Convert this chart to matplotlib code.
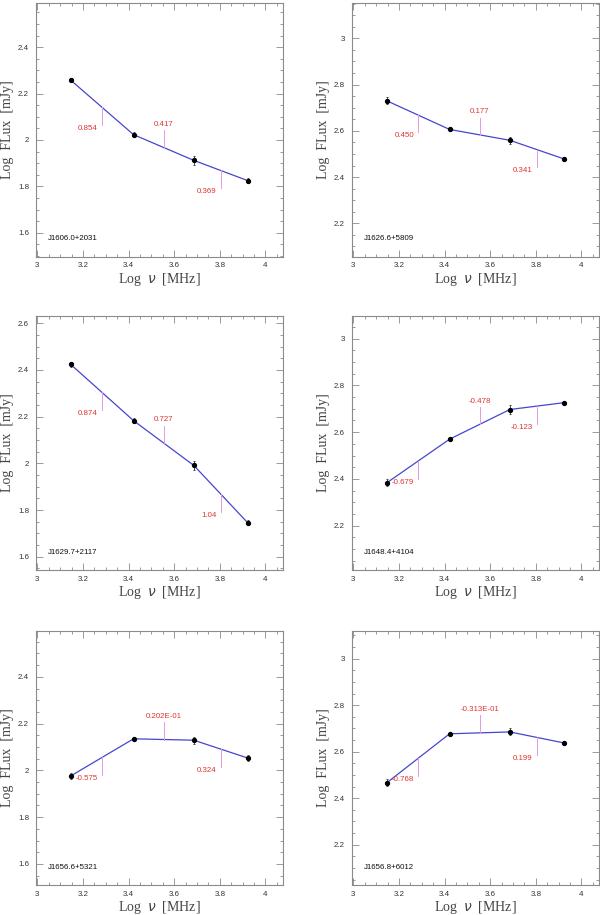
import matplotlib
matplotlib.use("Agg")
import matplotlib.pyplot as plt
from matplotlib.ticker import MultipleLocator

# frequencies (log MHz): 1.4, 2.64, 4.85, 8.35 GHz
log_nu = [3.146, 3.4216, 3.686, 3.9217]

names = ["J1606.0+2031", "J1626.6+5809", "J1629.7+2117",
         "J1648.4+4104", "J1656.6+5321", "J1656.8+6012"]

flux_1606 = [2.258, 2.023, 1.912, 1.825]
flux_1626 = [2.730, 2.606, 2.559, 2.479]
flux_1629 = [2.424, 2.183, 1.991, 1.746]
flux_1648 = [2.383, 2.570, 2.697, 2.726]
flux_1656a = [1.976, 2.135, 2.129, 2.053]
flux_1656b = [2.466, 2.677, 2.685, 2.638]

err_1606 = [0.010, 0.010, 0.020, 0.010]
err_1626 = [0.015, 0.005, 0.015, 0.005]
err_1629 = [0.012, 0.010, 0.020, 0.010]
err_1648 = [0.015, 0.005, 0.020, 0.005]
err_1656a = [0.012, 0.008, 0.015, 0.012]
err_1656b = [0.015, 0.005, 0.015, 0.008]

alpha_1606 = ["0.854", "0.417", "0.369"]
alpha_1626 = ["0.450", "0.177", "0.341"]
alpha_1629 = ["0.874", "0.727", "1.04"]
alpha_1648 = ["-0.679", "-0.478", "-0.123"]
alpha_1656a = ["-0.575", "0.202E-01", "0.324"]
alpha_1656b = ["-0.768", "-0.313E-01", "0.199"]

ylims = [(1.497, 2.592), (2.056, 3.154), (1.543, 2.631),
         (2.010, 3.097), (1.510, 2.596), (2.027, 3.119)]

fluxes = [flux_1606, flux_1626, flux_1629, flux_1648, flux_1656a, flux_1656b]
errs = [err_1606, err_1626, err_1629, err_1648, err_1656a, err_1656b]
alphas = [alpha_1606, alpha_1626, alpha_1629, alpha_1648, alpha_1656a, alpha_1656b]

FRAME = "#8a8a8a"
TICKLEN = 0.075
SMALL = dict(family="Liberation Sans", fontsize=5.7)

fig = plt.figure(figsize=(6, 9.15), dpi=100)

lefts = [0.060, 0.5867]
bottoms = [0.7195, 0.377, 0.0328]
w, h = 0.4117, 0.2776

for i in range(6):
    ax = fig.add_axes([lefts[i % 2], bottoms[i // 2], w, h])
    y = fluxes[i]

    ax.plot(log_nu, y, color="#4646cc", lw=0.9, zorder=2)
    ax.errorbar(log_nu, y, yerr=errs[i], fmt="none", ecolor="#333333",
                elinewidth=0.6, capsize=1.0, capthick=0.6, zorder=3)
    ax.plot(log_nu, y, "o", color="black", ms=2.8, zorder=4)

    # spectral index marks at segment midpoints
    for k in range(3):
        xm = 0.5 * (log_nu[k] + log_nu[k + 1])
        ym = 0.5 * (y[k] + y[k + 1])
        if k == 1:
            ax.plot([xm, xm], [ym, ym + TICKLEN], color="#e49ae4", lw=0.7)
            ax.annotate(alphas[i][k], (xm, ym + TICKLEN), xytext=(0, 1.5),
                        textcoords="offset points", ha="center", va="bottom",
                        color="#e03535", **SMALL)
        else:
            ax.plot([xm, xm], [ym, ym - TICKLEN], color="#e49ae4", lw=0.7)
            ax.annotate(alphas[i][k], (xm, ym - TICKLEN), xytext=(-3, 0),
                        textcoords="offset points", ha="right", va="top",
                        color="#e03535", **SMALL)

    ax.text(0.05, 0.07, names[i], transform=ax.transAxes,
            color="#111111", ha="left", va="center", **SMALL)

    ax.set_xlim(2.994, 4.077)
    ax.set_ylim(*ylims[i])
    ax.xaxis.set_major_locator(MultipleLocator(0.2))
    ax.xaxis.set_minor_locator(MultipleLocator(0.05))
    ax.yaxis.set_major_locator(MultipleLocator(0.2))
    ax.yaxis.set_minor_locator(MultipleLocator(0.05))
    ax.xaxis.set_major_formatter(lambda v, p: f"{v:g}")
    ax.yaxis.set_major_formatter(lambda v, p: f"{v:g}")

    ax.tick_params(which="both", direction="in", top=True, right=True,
                   color=FRAME, width=0.6, labelsize=5.7, labelcolor="#333333")
    ax.tick_params(which="major", length=5)
    ax.tick_params(which="minor", length=2.5)
    ax.tick_params(axis="y", which="major", pad=5)
    ax.tick_params(axis="x", which="major", pad=4)
    for lab in ax.get_xticklabels() + ax.get_yticklabels():
        lab.set_family("Liberation Sans")
    for s in ax.spines.values():
        s.set_color(FRAME)
        s.set_linewidth(0.8)

    ax.set_xlabel(r"Log  $\nu$  [MHz]", family="Liberation Serif",
                  fontsize=10, color="#444444", labelpad=1)
    ax.set_ylabel("Log  FLux  [mJy]", family="Liberation Serif",
                  fontsize=10, color="#444444", labelpad=3)

fig.savefig("out.png", dpi=100)
